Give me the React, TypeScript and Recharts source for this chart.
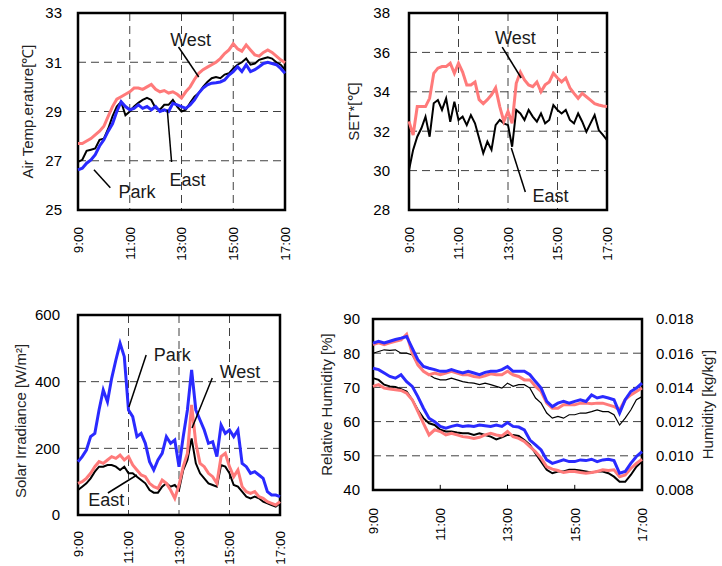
import React from 'react';
import {
  LineChart,
  Line,
  XAxis,
  YAxis,
  CartesianGrid,
  ReferenceArea,
  ReferenceLine,
  ReferenceDot,
} from 'recharts';

// ---------- shared categories (minutes since midnight, 10-minute steps) ----------
const TIMES = [
  540, 550, 560, 570, 580, 590, 600, 610, 620, 630, 640, 650, 660, 670, 680, 690, 700,
  710, 720, 730, 740, 750, 760, 770, 780, 790, 800, 810, 820, 830, 840, 850, 860, 870,
  880, 890, 900, 910, 920, 930, 940, 950, 960, 970, 980, 990, 1000, 1010, 1020,
];
const TIME_TICKS = [540, 660, 780, 900, 1020];
const TIME_LABELS = ['9:00', '11:00', '13:00', '15:00', '17:00'];

// ---------- Air temperature [°C] ----------
const AIR_WEST = [
  27.7, 27.7, 27.8, 27.9, 28.05, 28.2, 28.4, 28.8, 29.2, 29.5, 29.6, 29.7, 29.8, 29.95, 29.95,
  29.9, 30.0, 30.1, 29.9, 29.8, 29.85, 29.75, 29.8, 29.7, 29.55, 29.8, 30.0, 30.3, 30.55, 30.7,
  30.8, 30.9, 31.0, 31.15, 31.35, 31.5, 31.75, 31.55, 31.45, 31.7, 31.5, 31.3, 31.25, 31.4, 31.5,
  31.4, 31.25, 31.1, 30.98,
];
const AIR_EAST = [
  26.95, 27.04, 27.4, 27.45, 27.5, 27.85, 27.9, 28.3, 28.8, 29.2, 29.4, 28.85, 29.0, 29.2, 29.35,
  29.47, 29.55, 29.47, 29.13, 29.07, 29.27, 29.27, 29.47, 29.2, 29.0, 29.07, 29.35, 29.6, 29.75,
  30.0, 30.2, 30.35, 30.4, 30.35, 30.5, 30.55, 30.75, 30.9, 31.0, 31.15, 30.9, 30.95, 31.1, 31.15,
  31.2, 31.15, 31.0, 30.9, 30.7,
];
const AIR_PARK = [
  26.63, 26.7, 26.9, 27.03, 27.25, 27.6, 27.85, 28.2, 28.5, 29.0, 29.4, 29.2, 29.07, 29.13, 29.27,
  29.13, 29.2, 29.07, 29.2, 29.0, 29.07, 29.0, 29.33, 29.27, 29.2, 29.13, 29.27, 29.47, 29.75,
  29.95, 30.08, 30.15, 30.17, 30.2, 30.28, 30.48, 30.62, 30.82, 30.62, 30.9, 30.62, 30.7, 30.82,
  30.95, 31.0, 30.95, 30.9, 30.75, 30.55,
];
const AIR_TICKS = [25, 27, 29, 31, 33];

// ---------- SET* [°C] ----------
const SET_WEST = [
  32.5, 31.8, 33.25, 33.25, 33.25, 33.67, 34.94, 35.2, 35.28, 35.28, 35.45, 34.94, 35.45, 35.0,
  34.35, 34.35, 34.5, 33.6, 33.4, 33.6, 33.85, 34.2, 33.25, 32.5, 33.0, 32.4, 34.43, 35.0, 34.6,
  34.35, 34.26, 34.5, 34.0, 34.35, 34.5, 34.94, 34.7, 34.5, 34.7, 34.2, 33.92, 33.67, 33.92, 33.75,
  33.58, 33.4, 33.33, 33.28, 33.25,
];
const SET_EAST = [
  30.03, 31.05, 31.72, 32.15, 32.74, 31.72, 33.42, 33.58, 33.08, 33.67, 32.48, 33.5, 32.57, 32.74,
  32.31, 32.82, 32.4, 31.64, 30.88, 31.47, 31.05, 32.31, 32.57, 32.4, 32.31, 31.21, 33.08, 32.9,
  32.57, 33.08, 32.74, 32.48, 32.9, 32.4, 32.57, 33.33, 33.08, 32.9, 33.08, 32.57, 32.4, 32.9,
  32.48, 31.97, 32.4, 32.82, 32.06, 31.81, 31.55,
];
const SET_TICKS = [28, 30, 32, 34, 36, 38];

// ---------- Solar irradiance [W/m2] ----------
const SOLAR_PARK = [
  160, 175, 195, 235, 245, 315, 375, 340, 410, 465, 515, 475, 315, 295, 235, 245, 215, 160, 135,
  165, 185, 235, 215, 225, 145, 235, 315, 435, 315, 285, 255, 215, 220, 175, 270, 245, 255, 235,
  255, 155, 145, 125, 130, 120, 110, 70, 60, 60, 55,
];
const SOLAR_WEST = [
  95, 100, 110, 125, 145, 160, 155, 165, 175, 170, 180, 165, 175, 150, 135, 120, 115, 95, 85, 80,
  105, 95, 75, 50, 90, 145, 185, 330, 215, 155, 145, 125, 115, 95, 175, 185, 145, 115, 135, 85,
  70, 65, 70, 55, 50, 40, 35, 30, 40,
];
const SOLAR_EAST = [
  75, 85, 95, 110, 130, 145, 145, 150, 150, 145, 135, 145, 125, 125, 115, 105, 95, 75, 67, 67, 85,
  95, 85, 90, 75, 135, 165, 230, 155, 125, 110, 95, 90, 85, 150, 145, 125, 90, 85, 70, 55, 50, 55,
  50, 40, 35, 30, 25, 35,
];
const SOLAR_TICKS = [0, 200, 400, 600];

// ---------- Relative humidity [%] (left axis) ----------
const RH_PARK = [
  75.6, 75.2, 74.2, 73.2, 72.7, 73.7, 71.7, 70.3, 67.3, 63.9, 61, 60, 58.6, 58.1, 58.6, 59, 58.6,
  58.8, 58.6, 59, 58.8, 58.6, 59, 58.6, 59.7, 58.6, 58.4, 57.6, 54.6, 53.2, 51.7, 48.8, 47.8, 48.3,
  48.8, 48.3, 48.3, 48.8, 48.6, 49, 48.3, 48.8, 49, 48.6, 44.9, 45.4, 47.8, 49.8, 51.2,
];
const RH_WEST = [
  70.3, 70.8, 69.8, 69.5, 69.3, 69.1, 68.3, 66.4, 63, 59.5, 56.1, 57.6, 57.1, 56.1, 56.6, 56.1,
  55.6, 55.4, 55.1, 55.4, 56.1, 56.6, 56.1, 55.8, 57.1, 55.6, 55.1, 54.2, 52.7, 51.2, 49.3, 46.8,
  46.1, 45.7, 45.1, 45.4, 45.4, 45.1, 44.9, 45.1, 45.4, 45.9, 45.7, 45.9, 43.9, 44.4, 46.3, 47.8, 49,
];
const RH_EAST = [
  72.7, 72.2, 70.8, 70.3, 70.1, 69.5, 68.8, 66.4, 63.4, 61, 59.5, 59, 57.6, 57.1, 57.1, 56.8, 56.6,
  56.6, 56.1, 56.6, 56.1, 55.6, 54.8, 55.4, 56.1, 56.1, 55.8, 54.6, 53.2, 50.7, 48.3, 45.9, 44.9,
  45.4, 45.4, 45.9, 45.9, 45.7, 45.4, 45.1, 45.4, 45.4, 44.9, 43.9, 42.4, 42.4, 44.4, 46.8, 48.3,
];
const RH_TICKS = [40, 50, 60, 70, 80, 90];

// ---------- Humidity ratio [kg/kg'] (right axis) ----------
const HUM_PARK = [
  0.01659, 0.0167, 0.0166, 0.0167, 0.0168, 0.01688, 0.01698, 0.0163, 0.01562, 0.01522, 0.01512,
  0.01504, 0.01494, 0.01494, 0.01504, 0.01494, 0.01484, 0.01494, 0.01484, 0.01474, 0.01488,
  0.01494, 0.01494, 0.01504, 0.01522, 0.01494, 0.01494, 0.01494, 0.01474, 0.01434, 0.01396,
  0.01318, 0.01288, 0.01308, 0.01318, 0.01308, 0.01318, 0.01328, 0.01318, 0.01356, 0.01338,
  0.01346, 0.01338, 0.01328, 0.0125, 0.01328, 0.01376, 0.01396, 0.01425,
];
const HUM_WEST = [
  0.0165, 0.0166, 0.0165, 0.0166, 0.0167, 0.01678, 0.0171, 0.016, 0.01532, 0.01494, 0.01474,
  0.01484, 0.01474, 0.01484, 0.01494, 0.01484, 0.01474, 0.01474, 0.01464, 0.0146, 0.01468, 0.0148,
  0.01474, 0.01474, 0.01494, 0.01474, 0.01464, 0.01444, 0.01444, 0.01406, 0.01376, 0.01308,
  0.01278, 0.01278, 0.01298, 0.01298, 0.01298, 0.01308, 0.01308, 0.01304, 0.01308, 0.01308,
  0.01298, 0.01288, 0.01268, 0.01328, 0.01356, 0.01376, 0.01396,
];
const HUM_EAST = [
  0.016, 0.0161, 0.0162, 0.01616, 0.0162, 0.016, 0.016, 0.0159, 0.01532, 0.01494, 0.01474,
  0.01454, 0.01444, 0.01444, 0.01454, 0.01444, 0.01434, 0.01428, 0.01425, 0.01416, 0.01425,
  0.01416, 0.01406, 0.01396, 0.01425, 0.01406, 0.01416, 0.01416, 0.01396, 0.01338, 0.01308,
  0.0125, 0.0122, 0.0123, 0.0122, 0.0124, 0.0124, 0.0125, 0.0125, 0.01258, 0.01268, 0.01258,
  0.01258, 0.0124, 0.0118, 0.0122, 0.01268, 0.01328, 0.01346,
];
const HUM_TICKS = [0.008, 0.01, 0.012, 0.014, 0.016, 0.018];

// ---------- tables built from the arrays ----------
const airRows = TIMES.map((t, i) => ({ t, west: AIR_WEST[i], east: AIR_EAST[i], park: AIR_PARK[i] }));
const setRows = TIMES.map((t, i) => ({ t, west: SET_WEST[i], east: SET_EAST[i] }));
const solarRows = TIMES.map((t, i) => ({ t, west: SOLAR_WEST[i], east: SOLAR_EAST[i], park: SOLAR_PARK[i] }));
const humRows = TIMES.map((t, i) => ({
  t,
  rhWest: RH_WEST[i],
  rhEast: RH_EAST[i],
  rhPark: RH_PARK[i],
  hWest: HUM_WEST[i],
  hEast: HUM_EAST[i],
  hPark: HUM_PARK[i],
}));

// ---------- styles ----------
const FONT = '"Liberation Sans", Arial, Helvetica, sans-serif';
const RED = '#FF7A7A';
const BLUE = '#2A2AFF';
const BLACK = '#000000';
const GRID = '#404040';
const TICK_STYLE = { fontSize: 15, fill: '#000', fontFamily: FONT };

const RotTick = (props: any) => {
  const { x, y, payload } = props;
  const idx = TIME_TICKS.indexOf(payload.value);
  const label = idx >= 0 ? TIME_LABELS[idx] : '';
  return (
    <text
      x={x}
      y={y}
      transform={`rotate(-90 ${x} ${y})`}
      textAnchor="end"
      dy="0.36em"
      fontSize={13.5}
      fontFamily={FONT}
      fill="#000"
    >
      {label}
    </text>
  );
};

const AxisTitle = (props: any) => {
  const { viewBox, text, dx = 0, dy = 0 } = props;
  if (!viewBox) return null;
  const cx = viewBox.x + dx;
  const cy = viewBox.y + viewBox.height / 2 + dy;
  return (
    <text
      x={cx}
      y={cy}
      transform={`rotate(-90 ${cx} ${cy})`}
      textAnchor="middle"
      dominantBaseline="central"
      fontSize={15}
      fontFamily={FONT}
      fill="#222"
    >
      {text}
    </text>
  );
};

const annoShape = (text: string) => (p: any) => (
  <text
    x={p.cx}
    y={p.cy}
    textAnchor="middle"
    dominantBaseline="central"
    fontSize={18}
    fontFamily={FONT}
    fill="#1a1a1a"
  >
    {text}
  </text>
);

const xAxisCommon = {
  dataKey: 't',
  type: 'number' as const,
  domain: [540, 1020],
  ticks: TIME_TICKS,
  interval: 0 as const,
  axisLine: false,
  tickLine: false,
  tickSize: 0,
  tick: <RotTick />,
};

export default function App() {
  return (
    <div style={{ position: 'absolute', left: 0, top: 0, width: 722, height: 566, background: '#fff' }}>
      {/* Air temperature */}
      <div style={{ position: 'absolute', left: 0, top: 0 }}>
        <LineChart width={300} height={270} data={airRows} margin={{ top: 13, right: 15, bottom: 0, left: 0 }}>
          <CartesianGrid stroke={GRID} strokeDasharray="8 5" verticalValues={TIME_TICKS} horizontalValues={AIR_TICKS} />
          <XAxis {...xAxisCommon} height={60} tickMargin={17} />
          <YAxis
            type="number"
            domain={[25, 33]}
            ticks={AIR_TICKS}
            interval={0}
            width={78}
            axisLine={false}
            tickLine={false}
            tickSize={0}
            tickMargin={16}
            tick={TICK_STYLE}
            label={<AxisTitle text="Air Temp.erature[℃]" dx={27} />}
          />
          <ReferenceArea x1={540} x2={1020} y1={25} y2={33} fill="none" fillOpacity={0} stroke="#000" strokeWidth={2.5} />
          <Line dataKey="east" stroke={BLACK} strokeWidth={2} dot={false} activeDot={false} isAnimationActive={false} />
          <Line dataKey="west" stroke={RED} strokeWidth={3} dot={false} activeDot={false} isAnimationActive={false} />
          <Line dataKey="park" stroke={BLUE} strokeWidth={3} dot={false} activeDot={false} isAnimationActive={false} />
          <ReferenceLine segment={[{ x: 773, y: 31.62 }, { x: 820, y: 30.4 }]} stroke="#000" strokeWidth={1.5} />
          <ReferenceLine segment={[{ x: 757, y: 26.95 }, { x: 747, y: 29.07 }]} stroke="#000" strokeWidth={1.5} />
          <ReferenceLine segment={[{ x: 615, y: 25.9 }, { x: 577, y: 26.63 }]} stroke="#000" strokeWidth={1.5} />
          <ReferenceDot x={801} y={31.9} r={0} shape={annoShape('West')} />
          <ReferenceDot x={794} y={26.22} r={0} shape={annoShape('East')} />
          <ReferenceDot x={677} y={25.74} r={0} shape={annoShape('Park')} />
        </LineChart>
      </div>

      {/* SET* */}
      <div style={{ position: 'absolute', left: 330, top: 0 }}>
        <LineChart width={292} height={270} data={setRows} margin={{ top: 13, right: 15, bottom: 0, left: 0 }}>
          <CartesianGrid stroke={GRID} strokeDasharray="8 5" verticalValues={TIME_TICKS} horizontalValues={SET_TICKS} />
          <XAxis {...xAxisCommon} height={60} tickMargin={17} />
          <YAxis
            type="number"
            domain={[28, 38]}
            ticks={SET_TICKS}
            interval={0}
            width={79}
            axisLine={false}
            tickLine={false}
            tickSize={0}
            tickMargin={19}
            tick={TICK_STYLE}
            label={<AxisTitle text="SET*[℃]" dx={23} />}
          />
          <ReferenceArea x1={540} x2={1020} y1={28} y2={38} fill="none" fillOpacity={0} stroke="#000" strokeWidth={2.5} />
          <Line dataKey="east" stroke={BLACK} strokeWidth={2} dot={false} activeDot={false} isAnimationActive={false} />
          <Line dataKey="west" stroke={RED} strokeWidth={3} dot={false} activeDot={false} isAnimationActive={false} />
          <ReferenceLine segment={[{ x: 766, y: 36.27 }, { x: 812, y: 34.7 }]} stroke="#000" strokeWidth={1.5} />
          <ReferenceLine segment={[{ x: 822, y: 28.91 }, { x: 788, y: 31.15 }]} stroke="#000" strokeWidth={1.5} />
          <ReferenceDot x={798} y={36.73} r={0} shape={annoShape('West')} />
          <ReferenceDot x={883} y={28.71} r={0} shape={annoShape('East')} />
        </LineChart>
      </div>

      {/* Solar irradiance */}
      <div style={{ position: 'absolute', left: 0, top: 300 }}>
        <LineChart width={300} height={266} data={solarRows} margin={{ top: 15, right: 20, bottom: 0, left: 0 }}>
          <CartesianGrid stroke={GRID} strokeDasharray="8 5" verticalValues={TIME_TICKS} horizontalValues={SOLAR_TICKS} />
          <XAxis {...xAxisCommon} height={51} tickMargin={16} />
          <YAxis
            type="number"
            domain={[0, 600]}
            ticks={SOLAR_TICKS}
            interval={0}
            width={78}
            axisLine={false}
            tickLine={false}
            tickSize={0}
            tickMargin={18}
            tick={TICK_STYLE}
            label={<AxisTitle text="Solar Irradiance [W/m²]" dx={20} dy={6} />}
          />
          <ReferenceArea x1={540} x2={1020} y1={0} y2={600} fill="none" fillOpacity={0} stroke="#000" strokeWidth={2.5} />
          <Line dataKey="east" stroke={BLACK} strokeWidth={2} dot={false} activeDot={false} isAnimationActive={false} />
          <Line dataKey="west" stroke={RED} strokeWidth={3} dot={false} activeDot={false} isAnimationActive={false} />
          <Line dataKey="park" stroke={BLUE} strokeWidth={3} dot={false} activeDot={false} isAnimationActive={false} />
          <ReferenceLine segment={[{ x: 702, y: 480 }, { x: 661, y: 324 }]} stroke="#000" strokeWidth={1.5} />
          <ReferenceLine segment={[{ x: 859, y: 411 }, { x: 811, y: 261 }]} stroke="#000" strokeWidth={1.5} />
          <ReferenceLine segment={[{ x: 611, y: 66 }, { x: 680, y: 120 }]} stroke="#000" strokeWidth={1.5} />
          <ReferenceDot x={764} y={480} r={0} shape={annoShape('Park')} />
          <ReferenceDot x={925} y={429} r={0} shape={annoShape('West')} />
          <ReferenceDot x={607} y={45} r={0} shape={annoShape('East')} />
        </LineChart>
      </div>

      {/* Humidity */}
      <div style={{ position: 'absolute', left: 310, top: 300 }}>
        <LineChart width={412} height={266} data={humRows} margin={{ top: 19, right: 0, bottom: 0, left: 0 }}>
          <CartesianGrid
            stroke={GRID}
            strokeDasharray="8 5"
            vertical={false}
            yAxisId="rh"
            horizontalValues={RH_TICKS}
          />
          <XAxis {...xAxisCommon} height={76} tickMargin={18} />
          <YAxis
            yAxisId="rh"
            type="number"
            domain={[40, 90]}
            ticks={RH_TICKS}
            interval={0}
            width={63}
            axisLine={false}
            tickLine={false}
            tickSize={0}
            tickMargin={13}
            tick={TICK_STYLE}
            label={<AxisTitle text="Relative Humidity [%]" dx={16} />}
          />
          <YAxis
            yAxisId="hum"
            orientation="right"
            type="number"
            domain={[0.008, 0.018]}
            ticks={HUM_TICKS}
            interval={0}
            width={80}
            axisLine={false}
            tickLine={false}
            tickSize={0}
            tickMargin={14}
            tick={TICK_STYLE}
            tickFormatter={(v: number) => v.toFixed(3)}
            label={<AxisTitle text="Humidity [kg/kg']" dx={65} />}
          />
          <ReferenceArea yAxisId="rh" x1={540} x2={1020} y1={40} y2={90} fill="none" fillOpacity={0} stroke="#000" strokeWidth={2.5} />
          {[660, 780, 900].map((t) => (
            <ReferenceLine key={t} yAxisId="rh" segment={[{ x: t, y: 40 }, { x: t, y: 41.5 }]} stroke="#000" strokeWidth={1} />
          ))}
          <Line yAxisId="hum" dataKey="hEast" stroke={BLACK} strokeWidth={1.2} dot={false} activeDot={false} isAnimationActive={false} />
          <Line yAxisId="rh" dataKey="rhEast" stroke={BLACK} strokeWidth={2} dot={false} activeDot={false} isAnimationActive={false} />
          <Line yAxisId="hum" dataKey="hWest" stroke={RED} strokeWidth={3} dot={false} activeDot={false} isAnimationActive={false} />
          <Line yAxisId="rh" dataKey="rhWest" stroke={RED} strokeWidth={3} dot={false} activeDot={false} isAnimationActive={false} />
          <Line yAxisId="hum" dataKey="hPark" stroke={BLUE} strokeWidth={3} dot={false} activeDot={false} isAnimationActive={false} />
          <Line yAxisId="rh" dataKey="rhPark" stroke={BLUE} strokeWidth={3} dot={false} activeDot={false} isAnimationActive={false} />
        </LineChart>
      </div>
    </div>
  );
}
